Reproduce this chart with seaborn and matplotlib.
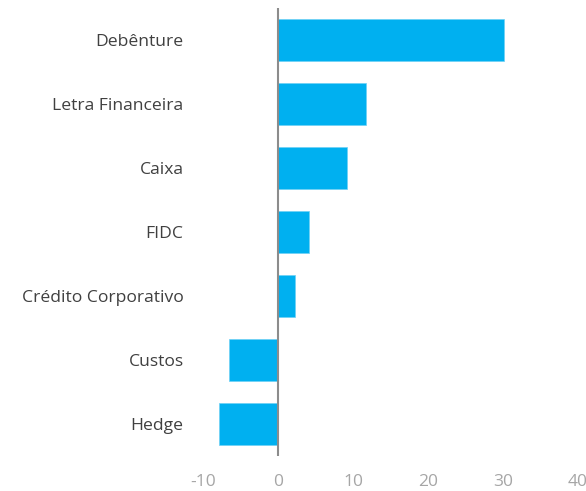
import matplotlib
matplotlib.use("Agg")
import matplotlib.pyplot as plt
import seaborn as sns
import pandas as pd

# Dados do gráfico
categorias = ["Debênture", "Letra Financeira", "Caixa", "FIDC",
              "Crédito Corporativo", "Custos", "Hedge"]
valores = [30.1, 11.7, 9.2, 4.1, 2.2, -6.6, -7.9]
ticks_x = [-10, 0, 10, 20, 30, 40]

df = pd.DataFrame({"categoria": categorias, "valor": valores})

sns.set_theme(style="white")
plt.rcParams["font.family"] = ["Open Sans", "DejaVu Sans"]

fig = plt.figure(figsize=(5.86, 4.91), dpi=100)
ax = fig.add_axes([203 / 586, 1 - 456 / 491, 375 / 586, 448 / 491])

sns.barplot(data=df, x="valor", y="categoria", orient="h", color="#00B0F0",
            saturation=1, width=0.66, edgecolor="#6fd0f5", linewidth=0.5, ax=ax)

ax.axvline(0, color="#8c8c8c", linewidth=1.5, zorder=3)
ax.set_xlim(-10, 40)
ax.set_ylim(6.5, -0.5)
ax.set_xticks(ticks_x)
ax.set_xticklabels([str(t) for t in ticks_x])
ax.tick_params(axis="x", length=0, pad=13, labelsize=12.5, labelcolor="#a6a6a6")
ax.tick_params(axis="y", length=0, pad=14, labelsize=12.6, labelcolor="#404040")
ax.set_xlabel("")
ax.set_ylabel("")
for s in ax.spines.values():
    s.set_visible(False)

fig.savefig("out.png", dpi=100)
